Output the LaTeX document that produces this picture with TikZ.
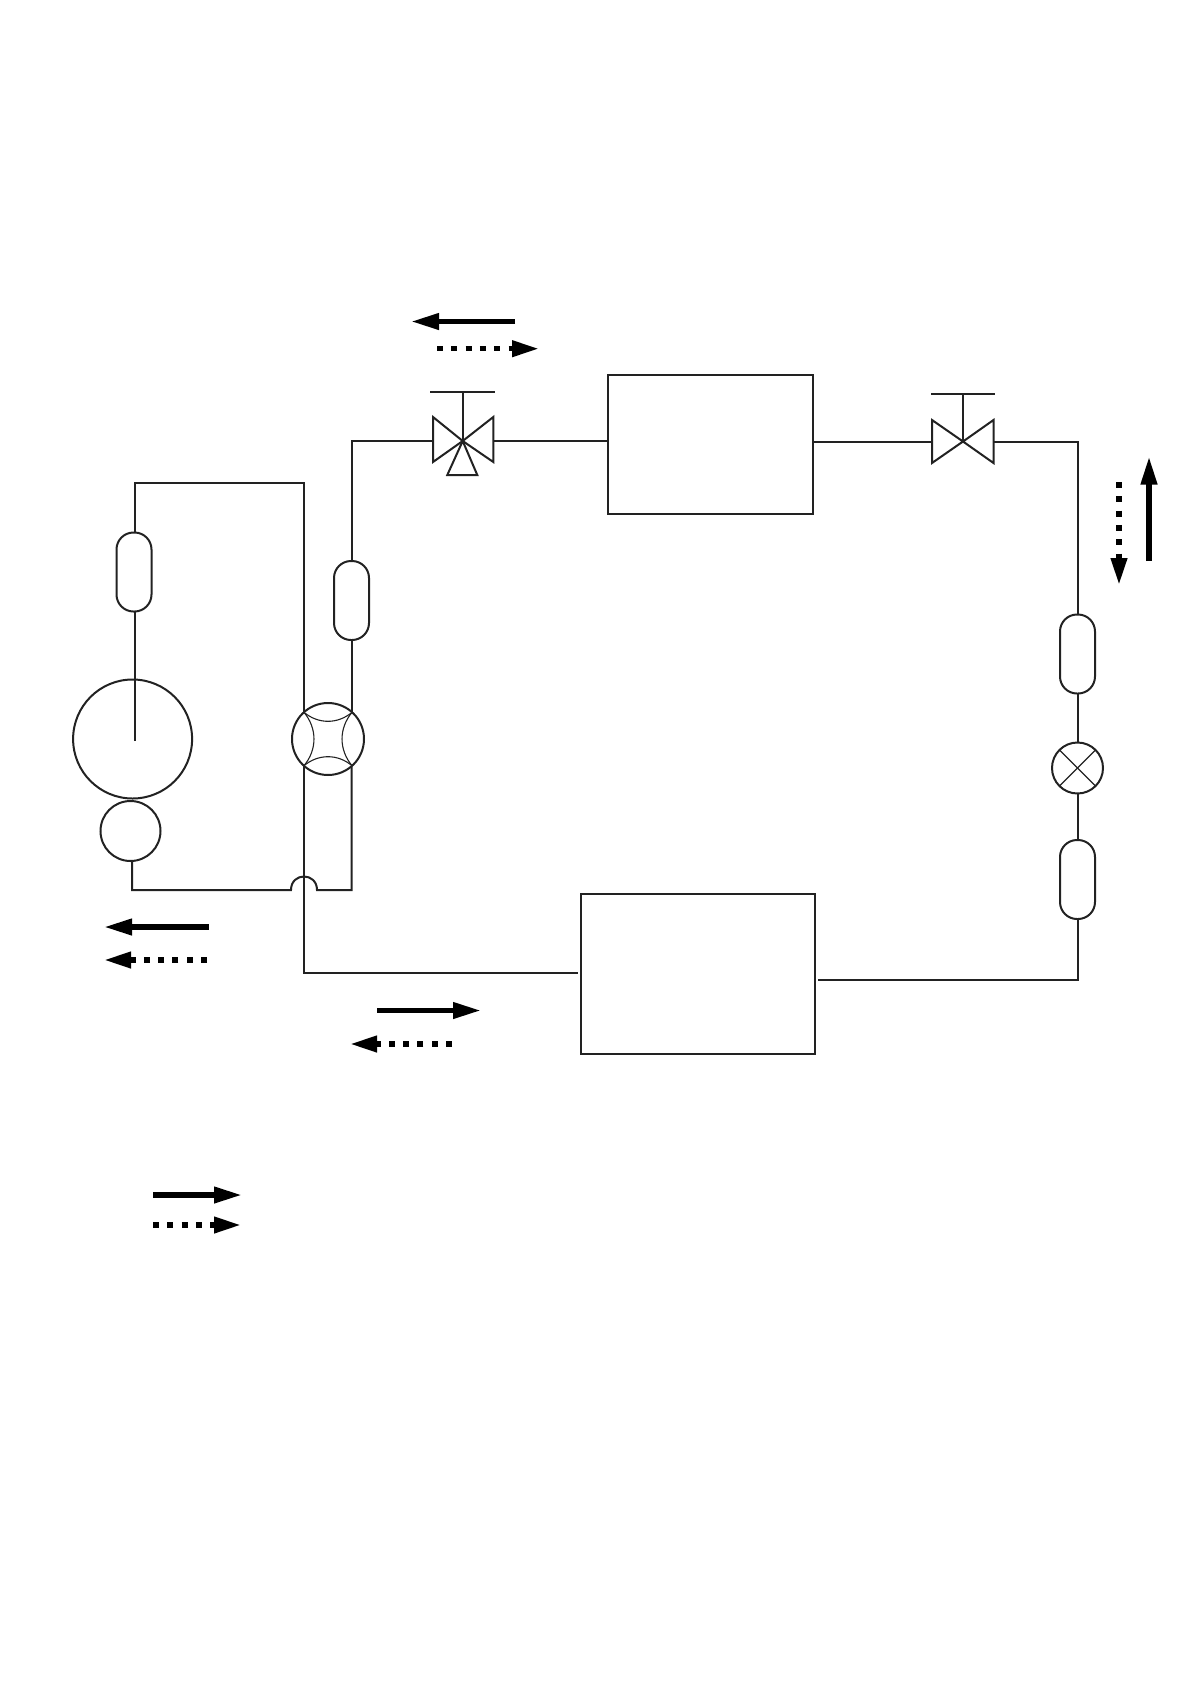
\documentclass[tikz,border=0pt]{standalone}
\usetikzlibrary{arrows.meta}
\definecolor{pipe}{HTML}{222222}
\tikzset{
  pipeline/.style={draw=pipe,line width=2pt},
  thinline/.style={draw=pipe,line width=1.1pt},
  capsule/.style={draw=pipe,line width=2pt,rectangle,rounded corners=17pt,minimum width=35pt,minimum height=79pt,inner sep=0pt,outer sep=0pt},
  round/.style={draw=pipe,line width=2pt,circle,inner sep=0pt,outer sep=0pt,minimum size=#1},
  unit/.style={draw=pipe,line width=2pt,rectangle,inner sep=0pt,outer sep=0pt,minimum width=#1},
  flowsolid/.style={draw=black,line width=5.5pt,-{Triangle[length=28pt,width=15.5pt]}},
  flowdotted/.style={draw=black,line width=5.5pt,dash pattern=on 6pt off 8.3pt,-{Triangle[length=27pt,width=15.5pt]}}
}
\begin{document}
\begin{tikzpicture}[x=1pt,y=-1pt]
      \useasboundingbox (0,0) rectangle (1190,1684);
      % units
      \node[unit=205pt,minimum height=139.5pt](indoor) at (710.5,444.7){};
      \node[unit=234pt,minimum height=160pt](outdoor) at (698,974){};
      % compressor side
      \node[capsule](capleft) at (134,572){};
      \node[round=119pt](tank) at (132.6,739){};
      \node[round=60pt](motor) at (130.5,831){};
      \node[round=72pt](fourway) at (328,739){};
      \node[capsule](capmid) at (351.5,600.5){};
      % right side
      \node[capsule](captop) at (1077.5,654){};
      \node[round=51pt](expvalve) at (1077.5,768){};
      \node[capsule](capbot) at (1077.5,879.5){};
      % pipe corners
      \coordinate (topleft) at (135,483);
      \coordinate (topright) at (304,483);
      \coordinate (tankin) at (135,741);
      \coordinate (motorcorner) at (132,890);
      \coordinate (jumpa) at (291,890);
      \coordinate (jumpb) at (317,890);
      \coordinate (midcorner) at (351.5,890);
      \coordinate (downcorner) at (304,973);
      \coordinate (outin) at (578,973);
      \coordinate (valvecorner) at (351.5,441);
      \coordinate (rightcorner) at (1077.5,441.5);
      \coordinate (lowcorner) at (1077.5,980);
      \coordinate (outout) at (817.5,980);
      % three way valve
      \coordinate (tv) at (462.7,441);
      \coordinate (tvl) at (433,441);
      \coordinate (tvr) at (493.3,441);
      \coordinate (tvlt) at (433,417);
      \coordinate (tvlb) at (433,462);
      \coordinate (tvrt) at (493.3,417);
      \coordinate (tvrb) at (493.3,462);
      \coordinate (tvba) at (447.3,475);
      \coordinate (tvbb) at (477.3,475);
      \coordinate (tvstem) at (462.7,392);
      \coordinate (tvbara) at (430,392);
      \coordinate (tvbarb) at (495,392);
      % stop valve
      \coordinate (sv) at (963,441.5);
      \coordinate (svl) at (932,441.5);
      \coordinate (svr) at (993.5,441.5);
      \coordinate (svlt) at (932,420);
      \coordinate (svlb) at (932,463);
      \coordinate (svrt) at (993.5,420);
      \coordinate (svrb) at (993.5,463);
      \coordinate (svstem) at (963,394);
      \coordinate (svbara) at (931,394);
      \coordinate (svbarb) at (994.5,394);
      % pipes
      \draw[pipeline] (tankin) -- (tankin|-capleft.south);
      \draw[pipeline] (topleft|-capleft.north) -- (topleft) -- (topright) -- (topright|-fourway.132);
      \draw[pipeline] (downcorner|-fourway.228) -- (downcorner) -- (outin);
      \draw[pipeline] (motorcorner|-motor.south) -- (motorcorner) -- (jumpa)
        .. controls +(0,-18) and (317,872) .. (jumpb) -- (midcorner) -- (midcorner|-fourway.312);
      \draw[pipeline] (capmid.south|-fourway.48) -- (capmid.south);
      \draw[pipeline] (capmid.north) -- (valvecorner) -- (tvl);
      \draw[pipeline] (tvr) -- (tvr-|indoor.west);
      \draw[pipeline] (svl-|indoor.east) -- (svl);
      \draw[pipeline] (svr) -- (rightcorner) -- (captop.north);
      \draw[pipeline] (captop.south) -- (expvalve.north);
      \draw[pipeline] (expvalve.south) -- (capbot.north);
      \draw[pipeline] (capbot.south) -- (lowcorner) -- (outout);
      % four way arcs
      \draw[thinline] (fourway.132) to[bend right=40] (fourway.48);
      \draw[thinline] (fourway.48) to[bend right=40] (fourway.312);
      \draw[thinline] (fourway.312) to[bend right=40] (fourway.228);
      \draw[thinline] (fourway.228) to[bend right=40] (fourway.132);
      % expansion valve cross
      \draw[thinline] (expvalve.45) -- (expvalve.225);
      \draw[thinline] (expvalve.135) -- (expvalve.315);
      % valves
      \draw[pipeline] (tv) -- (tvlt) -- (tvlb) -- cycle;
      \draw[pipeline] (tv) -- (tvrt) -- (tvrb) -- cycle;
      \draw[pipeline] (tv) -- (tvba) -- (tvbb) -- cycle;
      \draw[pipeline] (tv) -- (tvstem);
      \draw[pipeline] (tvbara) -- (tvbarb);
      \draw[pipeline] (sv) -- (svlt) -- (svlb) -- cycle;
      \draw[pipeline] (sv) -- (svrt) -- (svrb) -- cycle;
      \draw[pipeline] (sv) -- (svstem);
      \draw[pipeline] (svbara) -- (svbarb);
      % flow arrows
      \coordinate (fa1) at (515,321.5);   \coordinate (fb1) at (411,321.5);
      \coordinate (fa2) at (437,348.7);   \coordinate (fb2) at (539,348.7);
      \coordinate (fa3) at (1149,561);    \coordinate (fb3) at (1149,456.5);
      \coordinate (fa4) at (1119,482);    \coordinate (fb4) at (1119,585);
      \coordinate (fa5) at (208.5,927);   \coordinate (fb5) at (104,927);
      \coordinate (fa6) at (207,960);     \coordinate (fb6) at (104,960);
      \coordinate (fa7) at (377,1010.5);  \coordinate (fb7) at (481,1010.5);
      \coordinate (fa8) at (452,1044);    \coordinate (fb8) at (350,1044);
      \coordinate (fa9) at (153,1195);    \coordinate (fb9) at (242,1195);
      \coordinate (fa10) at (153,1225);   \coordinate (fb10) at (241,1225);
      \draw[flowsolid] (fa1) -- (fb1);
      \draw[flowdotted] (fa2) -- (fb2);
      \draw[flowsolid] (fa3) -- (fb3);
      \draw[flowdotted] (fa4) -- (fb4);
      \draw[flowsolid] (fa5) -- (fb5);
      \draw[flowdotted] (fa6) -- (fb6);
      \draw[flowsolid] (fa7) -- (fb7);
      \draw[flowdotted] (fa8) -- (fb8);
      \draw[flowsolid] (fa9) -- (fb9);
      \draw[flowdotted] (fa10) -- (fb10);
\end{tikzpicture}
\end{document}
